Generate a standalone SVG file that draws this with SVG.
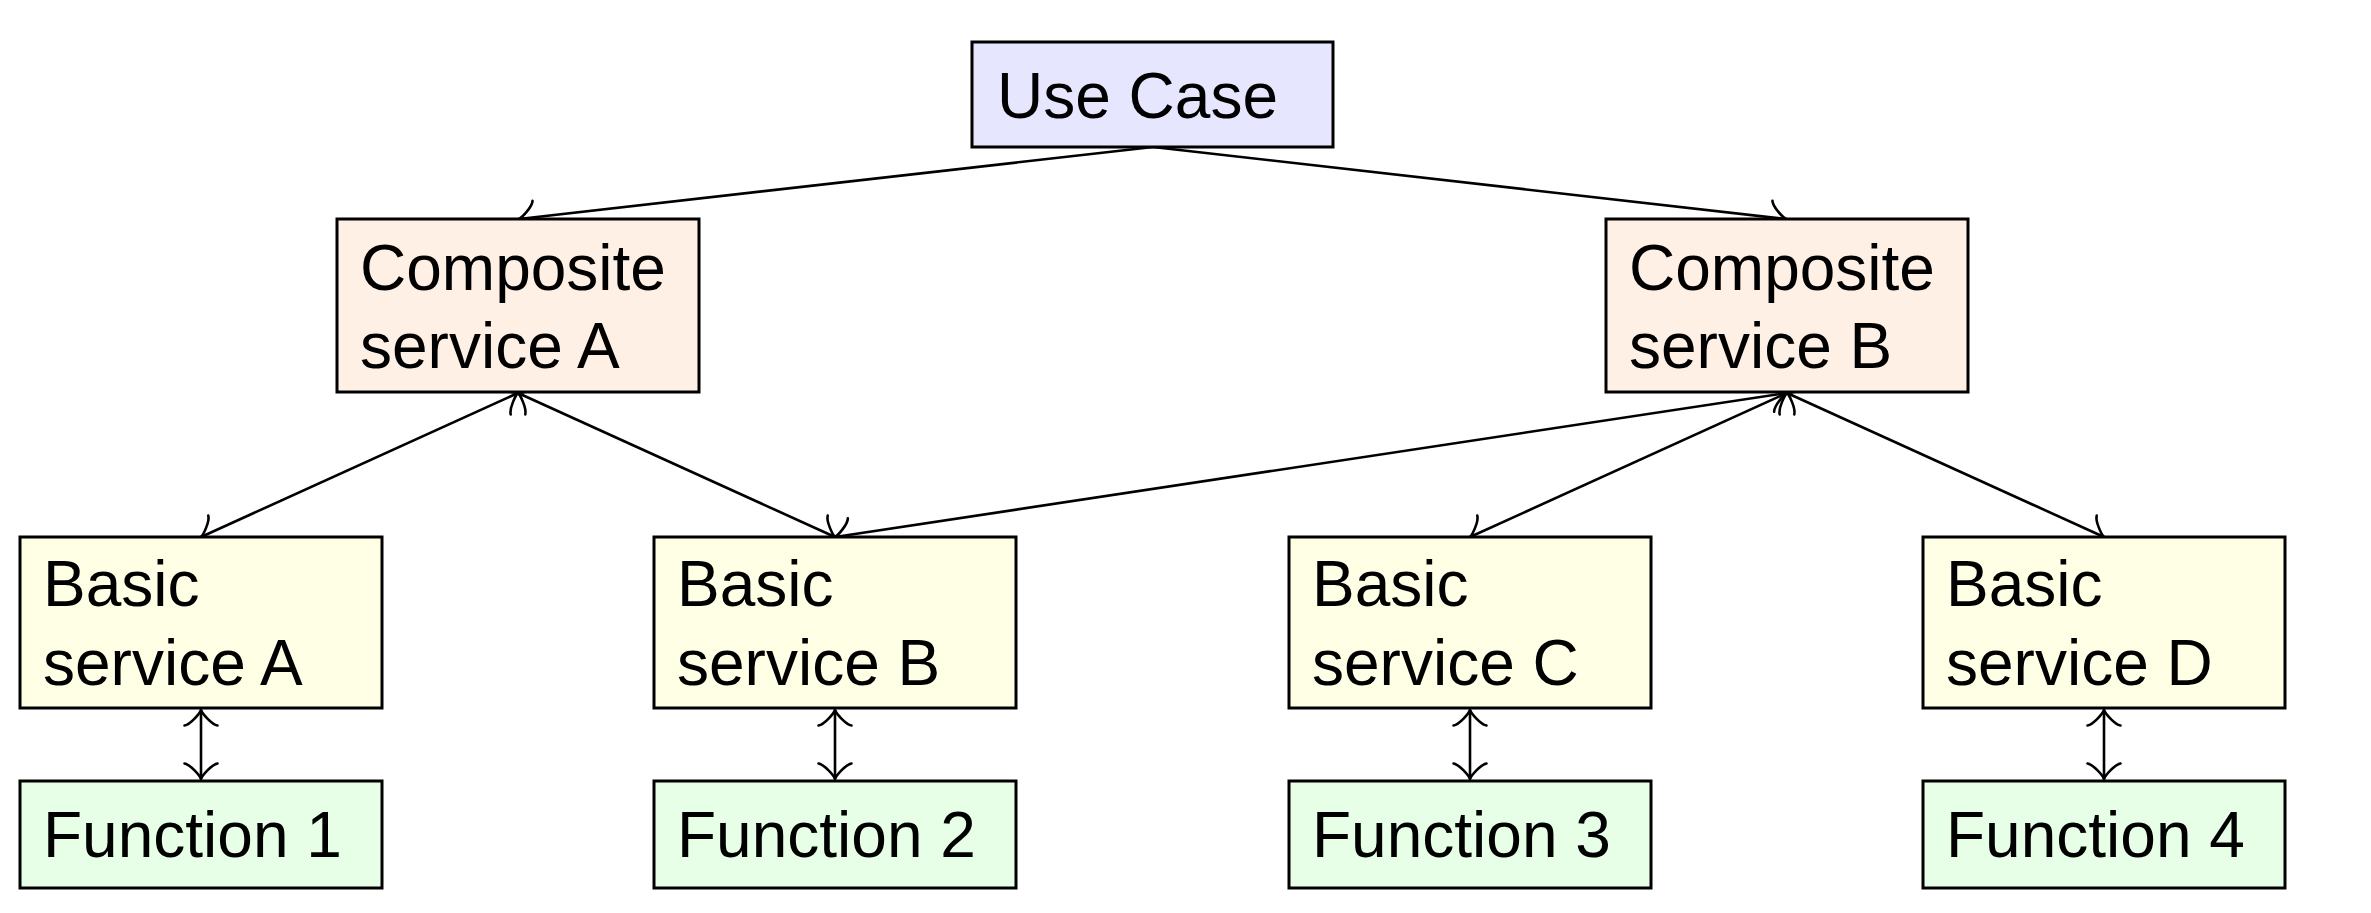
<svg xmlns="http://www.w3.org/2000/svg" width="2371" height="913" viewBox="0 0 2371 913">
<style>
.box{stroke:#000;stroke-width:3}
.uc{fill:#e6e6ff}
.cs{fill:#fff0e6}
.bs{fill:#ffffe6}
.fn{fill:#e6ffe6}
text{font-family:"Liberation Sans",Arial,sans-serif;font-size:64px;fill:#000}
.edge{stroke:#000;stroke-width:2.6;fill:none}
</style>
<defs>
<marker id="to" markerUnits="userSpaceOnUse" viewBox="-20 -20 24 40" markerWidth="24" markerHeight="40" refX="0" refY="0" orient="auto-start-reverse">
<path d="M -15.5 -16.5 C -14.5 -10.5 -3.2 -1.1 0 0 C -3.2 1.1 -14.5 10.5 -15.5 16.5" fill="none" stroke="#000" stroke-width="2.6" stroke-linecap="round"/>
</marker>
</defs>
<g id="connectors">
<line class="edge" x1="1153" y1="147" x2="519" y2="219" marker-end="url(#to)"/>
<line class="edge" x1="1153" y1="147" x2="1786" y2="219" marker-end="url(#to)"/>
<line class="edge" x1="518" y1="393" x2="201" y2="537" marker-start="url(#to)" marker-end="url(#to)"/>
<line class="edge" x1="518" y1="393" x2="835" y2="537" marker-start="url(#to)" marker-end="url(#to)"/>
<line class="edge" x1="1787" y1="393" x2="835" y2="537" marker-start="url(#to)" marker-end="url(#to)"/>
<line class="edge" x1="1787" y1="393" x2="1470" y2="537" marker-start="url(#to)" marker-end="url(#to)"/>
<line class="edge" x1="1787" y1="393" x2="2104" y2="537" marker-start="url(#to)" marker-end="url(#to)"/>
<line class="edge" x1="201" y1="710" x2="201" y2="779" marker-start="url(#to)" marker-end="url(#to)"/>
<line class="edge" x1="835" y1="710" x2="835" y2="779" marker-start="url(#to)" marker-end="url(#to)"/>
<line class="edge" x1="1470" y1="710" x2="1470" y2="779" marker-start="url(#to)" marker-end="url(#to)"/>
<line class="edge" x1="2104" y1="710" x2="2104" y2="779" marker-start="url(#to)" marker-end="url(#to)"/>
</g>
<g id="usecase"><rect class="box uc" x="972" y="42" width="361" height="105"/><text x="997" y="118">Use Case</text></g>
<g id="compA"><rect class="box cs" x="337" y="219" width="362" height="173"/><text x="360" y="290">Composite</text><text x="360" y="368">service A</text></g>
<g id="compB"><rect class="box cs" x="1606" y="219" width="362" height="173"/><text x="1629" y="290">Composite</text><text x="1629" y="368">service B</text></g>
<g id="basicA"><rect class="box bs" x="20" y="537" width="362" height="171"/><text x="43" y="606">Basic</text><text x="43" y="685">service A</text></g>
<g id="basicB"><rect class="box bs" x="654" y="537" width="362" height="171"/><text x="677" y="606">Basic</text><text x="677" y="685">service B</text></g>
<g id="basicC"><rect class="box bs" x="1289" y="537" width="362" height="171"/><text x="1312" y="606">Basic</text><text x="1312" y="685">service C</text></g>
<g id="basicD"><rect class="box bs" x="1923" y="537" width="362" height="171"/><text x="1946" y="606">Basic</text><text x="1946" y="685">service D</text></g>
<g id="func1"><rect class="box fn" x="20" y="781" width="362" height="107"/><text x="43" y="857">Function 1</text></g>
<g id="func2"><rect class="box fn" x="654" y="781" width="362" height="107"/><text x="677" y="857">Function 2</text></g>
<g id="func3"><rect class="box fn" x="1289" y="781" width="362" height="107"/><text x="1312" y="857">Function 3</text></g>
<g id="func4"><rect class="box fn" x="1923" y="781" width="362" height="107"/><text x="1946" y="857">Function 4</text></g>
</svg>
